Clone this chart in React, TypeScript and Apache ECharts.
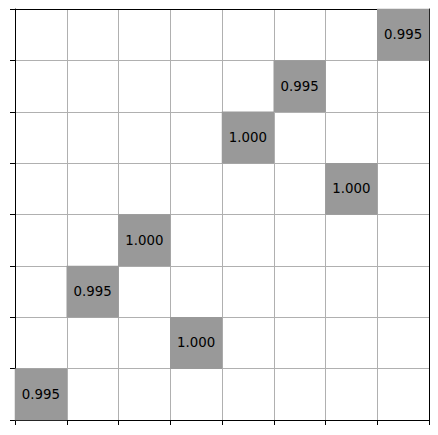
import React, { useEffect, useRef } from "react";
import * as echarts from "echarts";

const xCategories = ["0", "1", "2", "3", "4", "5", "6", "7"];
const yCategories = ["0", "1", "2", "3", "4", "5", "6", "7"];
// [column, row-from-bottom, value]
const cells: [number, number, number][] = [
  [7, 7, 0.995],
  [5, 6, 0.995],
  [4, 5, 1.0],
  [6, 4, 1.0],
  [2, 3, 1.0],
  [1, 2, 0.995],
  [3, 1, 1.0],
  [0, 0, 0.995],
];

export default function App() {
  const ref = useRef<HTMLDivElement>(null);
  useEffect(() => {
    document.body.style.margin = "0";
    const chart = echarts.init(ref.current!, null, { renderer: "svg" });
    const axisCommon = {
      type: "category" as const,
      axisLabel: { show: false },
      axisLine: { show: true, lineStyle: { color: "#000", width: 1 } },
      axisTick: { show: true, interval: 0, length: 5, lineStyle: { color: "#000", width: 1 } },
      splitLine: { show: true, interval: 0, lineStyle: { color: "#b0b0b0", width: 1 } },
    };
    chart.setOption({
      animation: false,
      backgroundColor: "#fff",
      grid: { left: 15, top: 9, width: 414, height: 411 },
      xAxis: [
        { ...axisCommon, data: xCategories, position: "bottom" },
        {
          type: "category",
          data: xCategories,
          position: "top",
          axisLabel: { show: false },
          axisTick: { show: false },
          axisLine: { show: true, lineStyle: { color: "#000", width: 1 } },
        },
      ],
      yAxis: [
        { ...axisCommon, data: yCategories, position: "left" },
        {
          type: "category",
          data: yCategories,
          position: "right",
          axisLabel: { show: false },
          axisTick: { show: false },
          axisLine: { show: true, lineStyle: { color: "#000", width: 1 } },
        },
      ],
      visualMap: {
        show: false,
        min: 0,
        max: 2,
        inRange: { color: ["#999999", "#999999"] },
      },
      series: [
        {
          type: "heatmap",
          data: cells,
          label: {
            show: true,
            color: "#000",
            fontFamily: "DejaVu Sans",
            fontSize: 13.33,
            formatter: (p: any) => Number(p.value[2]).toFixed(3),
          },
          itemStyle: { borderWidth: 0 },
        },
      ],
    });
    return () => chart.dispose();
  }, []);
  return <div ref={ref} style={{ width: 438, height: 435 }} />;
}
